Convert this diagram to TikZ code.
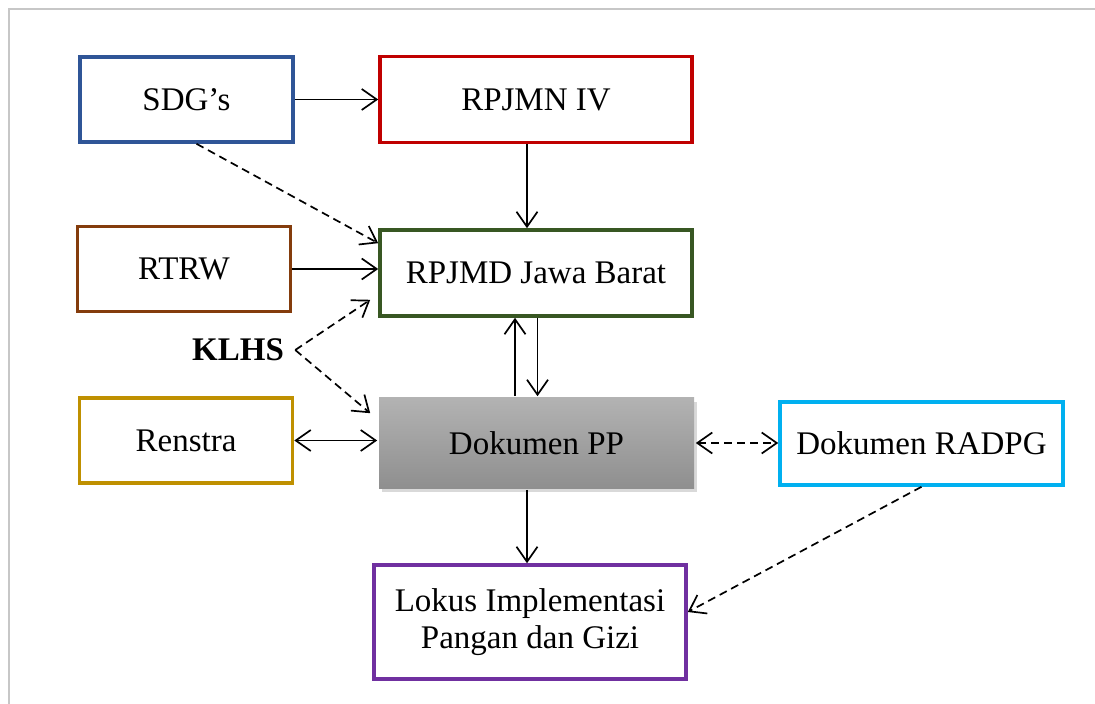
\documentclass[tikz,border=0pt]{standalone}
\usepackage{fontspec}
\setmainfont{Liberation Serif}
\usetikzlibrary{arrows.meta,shadows}
\definecolor{biru}{RGB}{47,85,151}
\definecolor{merah}{RGB}{192,0,0}
\definecolor{coklat}{RGB}{132,60,12}
\definecolor{hijau}{RGB}{56,87,35}
\definecolor{emas}{RGB}{191,144,0}
\definecolor{cyanmuda}{RGB}{0,176,240}
\definecolor{ungu}{RGB}{112,48,160}
\tikzstyle{blok}=[draw, line width=1.8pt, fill=white, inner sep=0pt, align=center, font=\fontsize{16.5}{18.5}\selectfont]
\tikzstyle{pendek}=[blok, minimum width=106.5pt, minimum height=42.5pt]
\tikzstyle{panjang}=[blok, minimum width=156pt, minimum height=43pt]
\tikzstyle{panah}=[-{Straight Barb[length=7.5pt,width=10.5pt]}, line width=0.85pt]
\tikzstyle{duapanah}=[{Straight Barb[length=7.5pt,width=10.5pt]}-{Straight Barb[length=7.5pt,width=10.5pt]}, line width=0.85pt]
\tikzstyle{putus}=[dash pattern=on 4pt off 2.5pt]

\begin{document}
\begin{tikzpicture}[x=0.5pt,y=-0.5pt]
\useasboundingbox (0,0) rectangle (1095,704);
\draw[black!22, line width=1pt] (9,704) -- (9,9) -- (1095,9);

\node[pendek, draw=biru] (sdg) at (186.5,99.5) {SDG’s};
\node[panjang, draw=merah] (rpjmn) at (536,99.5) {RPJMN IV};
\node[pendek, draw=coklat] (rtrw) at (184,269) {RTRW};
\node[panjang, draw=hijau] (rpjmd) at (536,273) {RPJMD Jawa Barat};
\node[font=\fontsize{16.5}{18.5}\selectfont\bfseries, inner sep=0pt] (klhs) at (238,350) {KLHS};
\node[pendek, draw=emas] (renstra) at (186,440.5) {Renstra};
\node[blok, draw=none, minimum width=157.5pt, minimum height=45pt, top color=black!30, bottom color=black!44,
  drop shadow={shadow xshift=1.5pt, shadow yshift=-2pt, opacity=0.3}] (pp) at (536.5,443) {Dokumen PP};
\node[blok, draw=cyanmuda, minimum width=141.5pt, minimum height=41.5pt] (radpg) at (921.5,443.5) {Dokumen RADPG};
\node[blok, draw=ungu, minimum width=156pt, minimum height=57pt] (lokus) at (530,622) {Lokus Implementasi\\Pangan dan Gizi};

\draw[panah] (sdg) -- (rpjmn);
\draw[panah] ([xshift=-4.5pt]rpjmn.south) -- ([xshift=-4.5pt]rpjmd.north);
\draw[panah, putus] ([xshift=5pt]sdg.south) -- ([yshift=-7.5pt]rpjmd.north west);
\draw[panah] (rtrw.east) -- (rtrw.east -| rpjmd.west);
\draw[panah, putus] ([xshift=5.5pt]klhs.east) -- ([xshift=-4pt,yshift=9pt]rpjmd.south west);
\draw[panah, putus] ([xshift=5.5pt]klhs.east) -- ([xshift=-3.5pt,yshift=-8.5pt]pp.north west);
\draw[panah] ([xshift=-10.75pt]pp.north) -- ([xshift=-10.75pt]pp.north |- rpjmd.south);
\draw[panah] ([xshift=0.75pt]rpjmd.south) -- ([xshift=0.75pt]rpjmd.south |- pp.north);
\draw[duapanah] (renstra.east) -- (renstra.east -| pp.west);
\draw[duapanah, putus] (pp.east) -- (pp.east -| radpg.west);
\draw[panah] ([xshift=-4.75pt]pp.south) -- ([xshift=-4.75pt]pp.south |- lokus.north);
\draw[panah, putus] (radpg.south) -- ([yshift=5pt]lokus.east);
\end{tikzpicture}
\end{document}
